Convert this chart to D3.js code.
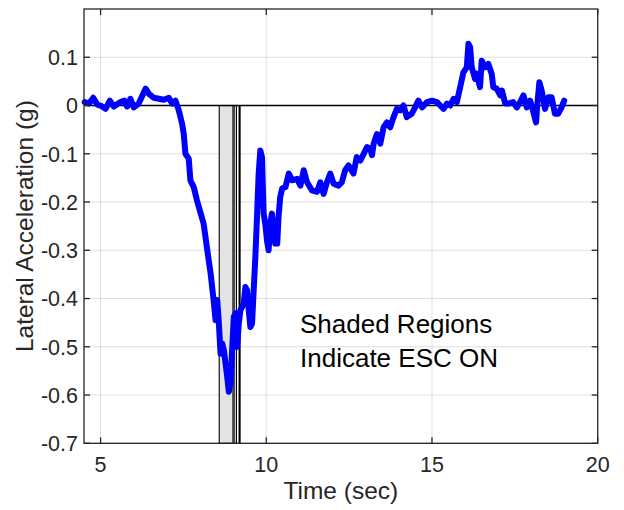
<!DOCTYPE html>
<html><head><meta charset="utf-8">
<script src="https://cdn.jsdelivr.net/npm/d3@7"></script>
<style>body{margin:0;background:#fff}svg{display:block}text{font-family:"Liberation Sans",Arial,Helvetica,sans-serif;fill:#262626}</style>
</head><body>
<script>
// ---- data ----
const time = [4.52,4.65,4.78,4.90,5.00,5.15,5.28,5.40,5.60,5.72,5.80,5.90,6.00,6.15,6.36,6.46,6.61,6.76,6.91,7.06,7.16,7.26,7.36,7.46,7.51,7.56,7.66,7.71,7.81,7.91,8.01,8.11,8.22,8.32,8.41,8.47,8.52,8.57,8.62,8.67,8.72,8.82,8.87,8.92,8.97,9.02,9.07,9.12,9.17,9.22,9.32,9.37,9.42,9.47,9.52,9.57,9.62,9.67,9.72,9.77,9.82,9.87,9.92,9.97,10.02,10.07,10.12,10.17,10.22,10.27,10.33,10.37,10.42,10.48,10.58,10.68,10.78,10.93,11.03,11.13,11.23,11.38,11.53,11.63,11.73,11.83,11.93,12.03,12.18,12.28,12.38,12.48,12.63,12.73,12.84,12.94,13.04,13.14,13.19,13.24,13.34,13.44,13.54,13.64,13.74,13.84,13.94,14.04,14.14,14.24,14.39,14.49,14.59,14.70,14.85,15.00,15.15,15.25,15.35,15.45,15.55,15.65,15.75,15.85,15.95,16.05,16.10,16.15,16.20,16.30,16.35,16.45,16.50,16.60,16.70,16.80,16.85,16.95,17.06,17.11,17.21,17.31,17.45,17.56,17.66,17.76,17.86,17.96,18.06,18.14,18.18,18.24,18.31,18.41,18.51,18.61,18.71,18.81,18.91,18.99];
const accel = [0.007,0.004,0.016,0.002,0.000,-0.007,0.010,-0.002,0.007,0.010,-0.002,0.014,-0.004,0.004,0.035,0.024,0.016,0.014,0.012,0.016,0.004,0.010,-0.010,-0.038,-0.059,-0.100,-0.110,-0.155,-0.169,-0.197,-0.221,-0.245,-0.300,-0.348,-0.403,-0.445,-0.403,-0.452,-0.514,-0.493,-0.507,-0.562,-0.593,-0.576,-0.507,-0.438,-0.431,-0.500,-0.452,-0.424,-0.410,-0.376,-0.383,-0.424,-0.459,-0.452,-0.383,-0.314,-0.231,-0.141,-0.093,-0.107,-0.224,-0.245,-0.279,-0.300,-0.245,-0.224,-0.259,-0.286,-0.286,-0.231,-0.190,-0.172,-0.169,-0.141,-0.155,-0.152,-0.166,-0.134,-0.159,-0.176,-0.179,-0.159,-0.183,-0.159,-0.141,-0.162,-0.166,-0.159,-0.134,-0.124,-0.141,-0.107,-0.114,-0.100,-0.086,-0.090,-0.103,-0.079,-0.059,-0.079,-0.045,-0.035,-0.045,-0.024,-0.007,-0.010,0.000,-0.024,-0.017,-0.004,0.010,-0.004,0.007,0.010,0.007,0.000,-0.007,0.004,0.000,0.014,0.007,0.038,0.069,0.079,0.128,0.121,0.079,0.055,0.066,0.038,0.093,0.079,0.086,0.066,0.038,0.035,0.021,0.031,0.004,0.004,0.007,-0.004,0.007,0.021,-0.004,0.010,-0.014,-0.035,0.004,0.048,0.031,-0.007,0.017,0.017,-0.017,-0.017,-0.004,0.010];
const escStart = [8.58, 9.03, 9.18];
const escEnd   = [8.995, 9.10, 9.21];
const xTicks = [5, 10, 15, 20];
const yTicks = [-0.7, -0.6, -0.5, -0.4, -0.3, -0.2, -0.1, 0, 0.1];
const xLabel = "Time (sec)";
const yLabel = "Lateral Acceleration (g)";
const note = ["Shaded Regions", "Indicate ESC ON"];

// ---- layout ----
const W = 624, H = 510;
const L = 84, R = 597.7, T = 9, B = 443.3;
const x = d3.scaleLinear().domain([4.5, 20]).range([L, R]);
const y = d3.scaleLinear().domain([-0.7, 0.2]).range([B, T]);

const svg = d3.select("body").append("svg").attr("width", W).attr("height", H);

// grid
const grid = svg.append("g").attr("stroke", "#262626").attr("stroke-opacity", 0.15).attr("stroke-width", 1);
grid.selectAll("line.gx").data(xTicks).join("line")
  .attr("x1", d => x(d)).attr("x2", d => x(d)).attr("y1", T).attr("y2", B);
grid.selectAll("line.gy").data(yTicks).join("line")
  .attr("x1", L).attr("x2", R).attr("y1", d => y(d)).attr("y2", d => y(d));

// shaded ESC regions
svg.append("g").selectAll("rect").data(escStart.map((s, i) => [s, escEnd[i]])).join("rect")
  .attr("x", d => x(d[0])).attr("width", d => x(d[1]) - x(d[0]))
  .attr("y", y(0)).attr("height", y(-0.7) - y(0))
  .attr("fill", "#e3e3e3").attr("stroke", "#000").attr("stroke-width", 1.1);

// zero line
svg.append("line").attr("x1", L).attr("x2", R).attr("y1", y(0)).attr("y2", y(0))
  .attr("stroke", "#000").attr("stroke-width", 1.5);

// data line
const pts = time.map((t, i) => [t, accel[i]]);
svg.append("path").datum(pts)
  .attr("d", d3.line().x(d => x(d[0])).y(d => y(d[1])))
  .attr("fill", "none").attr("stroke", "#0000ff").attr("stroke-width", 6)
  .attr("stroke-linejoin", "round").attr("stroke-linecap", "round");

// axes (MATLAB-like inward ticks, full box)
const tl = 6;
const ax = svg.append("g").attr("stroke", "#262626").attr("stroke-width", 1.3).attr("fill", "none");
ax.append("rect").attr("x", L).attr("y", T).attr("width", R - L).attr("height", B - T);
xTicks.forEach(v => {
  ax.append("line").attr("x1", x(v)).attr("x2", x(v)).attr("y1", B).attr("y2", B - tl);
  ax.append("line").attr("x1", x(v)).attr("x2", x(v)).attr("y1", T).attr("y2", T + tl);
});
yTicks.forEach(v => {
  ax.append("line").attr("x1", L).attr("x2", L + tl).attr("y1", y(v)).attr("y2", y(v));
  ax.append("line").attr("x1", R).attr("x2", R - tl).attr("y1", y(v)).attr("y2", y(v));
});

// tick labels
svg.append("g").selectAll("text").data(xTicks).join("text")
  .attr("x", d => x(d)).attr("y", 472).attr("text-anchor", "middle")
  .attr("font-size", 21.5).text(d => d);
svg.append("g").selectAll("text").data(yTicks).join("text")
  .attr("x", L - 6).attr("y", d => y(d)).attr("dy", "0.36em").attr("text-anchor", "end")
  .attr("font-size", 21.5).text(d => d === 0 ? "0" : d.toFixed(1));

// axis labels
svg.append("text").attr("x", (L + R) / 2).attr("y", 499).attr("text-anchor", "middle")
  .attr("font-size", 24.5).text(xLabel);
svg.append("text").attr("transform", `translate(33,${(T + B) / 2}) rotate(-90)`)
  .attr("text-anchor", "middle").attr("font-size", 24.5).text(yLabel);

// annotation
svg.append("g").selectAll("text").data(note).join("text")
  .attr("x", 300).attr("y", (d, i) => 333 + i * 33.5)
  .attr("font-size", 26).style("fill", "#000").text(d => d);
</script>
</body></html>
